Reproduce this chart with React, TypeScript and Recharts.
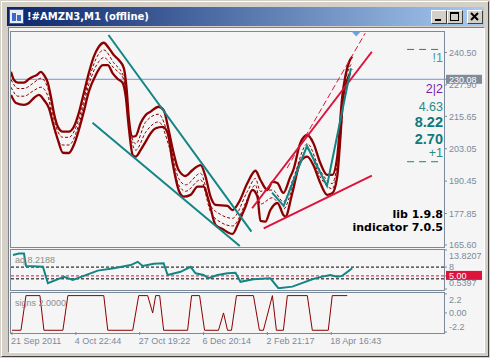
import { ComposedChart, Line, XAxis, YAxis, ReferenceLine, ReferenceDot } from "recharts";

const W = 490;
const H = 358;

const axisColor = "#7b8a9b";
const maroon = "#8b0000";
const teal = "#138585";
const crimson = "#dc143c";

// main price band: bar index / price
const upperBars = [0, 3, 7, 13, 18, 22, 26, 30, 33, 37, 40, 43, 47, 52, 58, 63, 68, 73, 78, 83, 88, 93, 98, 103, 108, 113, 116, 118, 122, 125, 130, 135, 140, 148, 153, 158, 163, 168, 175, 182, 190, 195, 200, 205, 217, 222, 228, 237, 245, 250, 257, 262, 267, 273, 280, 283, 290, 297, 303, 310, 317, 322, 327, 332, 335, 339, 342];
const upperPrice = [233.0, 229.8, 228.75, 228.75, 230.2, 231.1, 231.75, 233.0, 231.75, 228.6, 223.3, 217.0, 211.6, 209.7, 209.7, 211.6, 217.0, 224.75, 232.5, 238.9, 242.75, 244.3, 242.25, 239.5, 237.6, 234.5, 225.9, 215.5, 207.75, 208.0, 213.1, 216.2, 217.5, 219.4, 218.1, 210.35, 201.4, 194.8, 192.45, 194.8, 196.7, 192.2, 184.4, 181.2, 180.8, 179.2, 181.95, 189.7, 194.5, 190.9, 187.0, 190.2, 189.7, 185.85, 192.2, 194.8, 205.3, 208.4, 205.3, 197.5, 192.85, 192.85, 199.95, 223.3, 231.1, 236.9, 238.9];

const lowerBars = [0, 5, 13, 18, 23, 28, 33, 38, 42, 47, 52, 58, 63, 68, 73, 78, 85, 92, 97, 102, 107, 112, 115, 118, 122, 125, 130, 135, 140, 145, 152, 157, 162, 168, 173, 180, 187, 193, 198, 205, 212, 222, 228, 235, 242, 247, 250, 255, 260, 267, 273, 275, 282, 290, 297, 303, 310, 317, 322, 327, 330, 333, 337, 340];
const lowerPrice = [224.0, 220.85, 220.1, 220.85, 222.8, 224.0, 222.0, 218.9, 213.1, 206.5, 201.5, 201.4, 204.5, 210.35, 217.5, 225.25, 231.75, 235.6, 235.6, 232.4, 230.2, 228.6, 223.3, 211.6, 200.6, 200.0, 202.6, 205.8, 209.1, 211.0, 211.6, 209.2, 197.5, 187.0, 184.4, 185.1, 188.3, 188.3, 183.1, 173.4, 171.8, 169.9, 174.2, 180.5, 187.0, 184.4, 174.95, 174.7, 179.2, 181.95, 177.3, 176.6, 185.85, 198.0, 200.0, 196.7, 189.7, 185.1, 185.7, 192.2, 206.5, 223.3, 229.8, 232.5];

const midBars = [0, 7, 13, 22, 30, 37, 43, 52, 58, 68, 78, 88, 93, 103, 113, 118, 125, 135, 148, 158, 168, 175, 190, 200, 210, 222, 237, 245, 250, 262, 273, 283, 297, 310, 322, 327, 335, 342];
const midUpper = [230, 226.5, 226.5, 228.5, 230.5, 226.5, 214.5, 207.5, 207.5, 214.5, 230, 240, 241.5, 236.5, 231, 213.5, 205, 213.5, 216.5, 207.5, 191.5, 189, 193.5, 181, 177.5, 176, 186.5, 191.5, 186.5, 187, 182.5, 191.5, 205, 194.5, 189.5, 197, 229, 236.5];
const midLower = [227, 223.5, 223.5, 225.5, 227, 223.5, 211, 204.5, 204.5, 212.5, 228, 237, 238.5, 234.5, 230, 212.5, 202.5, 209.5, 213.5, 204.5, 189, 186.5, 191, 178.5, 174.5, 173, 183.5, 189, 181.5, 184, 179.5, 189, 203, 192, 187.5, 194.5, 226.5, 234];

// trend lines
const chanUpperBars = [97.7, 241];
const chanUpperPrice = [247.3, 170.8];
const chanLowerBars = [81.7, 229.3];
const chanLowerPrice = [213.2, 165.2];
const zigBars = [261.7, 273.3, 296.7, 316.7, 340.7];
const zigPrice = [185.95, 180.8, 204.1, 188.6, 234.35];
const supportBars = [253.3, 361.7];
const supportPrice = [172.1, 192.6];
const steepBars = [241.7, 361.7];
const steepPrice = [179.9, 240.8];
const thinBars = [276.7, 355];
const thinPrice = [195.5, 248.0];
const levelBars = [397, 433];
const levelTop = [241.7, 241.7];
const levelBottom = [198.0, 198.0];
const markerBar = 346;
const markerPrice = 247.7;

const lastPrice = 230.08;
const priceTicks = [240.5, 227.9, 215.65, 203.05, 190.45, 177.85, 165.6, lastPrice];

// aq sub window
const aqBars = [2, 8, 13, 15, 32, 37, 53, 62, 87, 103, 120, 127, 132, 143, 153, 157, 170, 180, 185, 193, 198, 207, 217, 225, 230, 243, 260, 268, 282, 293, 302, 312, 320, 327, 332, 342];
const aqValues = [12.1, 12.6, 12.6, 8.4, 8.1, 2.5, 4.7, 3.6, 6.8, 7.6, 8.7, 9.8, 8.4, 9.1, 9.3, 5.3, 6.4, 8.1, 5.9, 5.3, 4.2, 5.3, 5.9, 6.1, 3.0, 3.85, 4.2, 0.8, 1.35, 2.7, 3.85, 4.75, 5.3, 4.75, 5.0, 7.6];
const aqMax = 13.8207;
const aqMin = 0.5397;
const aqTicks = [aqMin, 8, aqMax, 5];
const aqTickLabels = ["0.5397", "8", "13.8207", "5.00"];

// signs sub window
const signBars = [1, 10, 15, 29, 33, 52, 57, 93, 97, 122, 128, 137, 142, 145, 149, 153, 177, 181, 189, 194, 208, 213, 217, 221, 226, 243, 249, 253, 262, 266, 273, 277, 297, 302, 318, 322, 337];
const signValues = [-2, -2, 2, 2, -2, -2, 2, 2, -2, -2, 2, 2, 0, 2, 2, -2, -2, 2, 2, -2, -2, 0, -2, -2, 2, 2, -2, -2, 2, -2, -2, 2, 2, -2, -2, 2, 2];
const signTicks = [-2.2, 0, 2.2];
const signTickLabels = ["-2.2", "0.00", "2.2"];

const dateTicks = [1, 65, 129, 193, 257, 321];
const dateLabels = ["21 Sep 2011", "4 Oct 22:44", "27 Oct 19:22", "6 Dec 20:14", "2 Feb 21:17", "18 Apr 16:43"];

const pts = (xs: number[], ys: number[]) => xs.map((x, i) => ({ x, y: ys[i] }));

const font = "'Liberation Sans', Arial, sans-serif";

const renderPriceTick = (props: any) => {
  const { x, y, payload } = props;
  const v = payload.value;
  if (v === lastPrice) {
    return (
      <g>
        <rect x={x - 3} y={y - 4.5} width={36} height={9} fill="#7f8b98" />
        <text x={x} y={y} dy="0.36em" fill="#ffffff" fontSize={9} fontFamily={font}>{v.toFixed(2)}</text>
      </g>
    );
  }
  return <text x={x} y={y} dy="0.36em" fill={axisColor} fontSize={9} fontFamily={font}>{v.toFixed(2)}</text>;
};

const renderAqTick = (props: any) => {
  const { x, y, payload, index } = props;
  const v = payload.value;
  const label = aqTickLabels[index];
  if (v === 5) {
    return (
      <g>
        <rect x={x - 3} y={y - 5} width={36} height={9} fill={crimson} />
        <text x={x} y={y} dy="0.3em" fill="#ffffff" fontSize={9} fontFamily={font}>{label}</text>
      </g>
    );
  }
  const off = v === aqMax ? 6 : v === aqMin ? -6 : 0;
  return <text x={x} y={y + off} dy="0.36em" fill={axisColor} fontSize={9} fontFamily={font}>{label}</text>;
};

const renderSignTick = (props: any) => {
  const { x, y, payload, index } = props;
  const v = payload.value;
  const off = v > 0 ? 6 : v < 0 ? -5 : 0;
  return <text x={x} y={y + off} dy="0.36em" fill={axisColor} fontSize={9} fontFamily={font}>{signTickLabels[index]}</text>;
};

const renderDateTick = (props: any) => {
  const { x, y, index } = props;
  return <text x={x - 1} y={y} dy="0.71em" textAnchor="start" fill={axisColor} fontSize={9} fontFamily={font}>{dateLabels[index]}</text>;
};

const triangle = (props: any) => {
  const { cx, cy } = props;
  return <path d={`M${cx - 4.5},${cy - 2.5} L${cx + 4.5},${cy - 2.5} L${cx},${cy + 2.5} Z`} fill="#6e9fe0" />;
};

const abs = (left: number, top: number, w: number, h: number, extra: any = {}) => ({
  position: "absolute" as const, left, top, width: w, height: h, boxSizing: "border-box" as const, ...extra,
});

const yAxisCommon = {
  orientation: "right" as const,
  type: "number" as const,
  width: 40,
  tickSize: 3,
  tickMargin: 2,
  axisLine: false,
  tickLine: { stroke: axisColor },
  interval: 0 as const,
  allowDataOverflow: true,
};

const chartMargin = (top: number, bottom: number) => ({ top, bottom, left: 11, right: 6 });

function TextRight({ top, size, color, bold, children, family }: any) {
  return (
    <div style={{ position: "absolute", right: 47, top, fontSize: size, lineHeight: 1, color, fontWeight: bold ? "bold" : "normal", fontFamily: family || font, whiteSpace: "nowrap" }}>
      {children}
    </div>
  );
}

function Btn({ left, children }: any) {
  return (
    <div style={abs(left, 10, 16, 14, { background: "#d4d0c8", borderTop: "1px solid #fff", borderLeft: "1px solid #fff", borderRight: "1px solid #404040", borderBottom: "1px solid #404040" })}>
      <svg width={14} height={12} style={{ display: "block" }}>{children}</svg>
    </div>
  );
}

export default function App() {
  return (
    <div style={{ position: "fixed", left: 0, top: 0, width: W, height: H, background: "#d4d0c8", overflow: "hidden", fontFamily: font }}>
      <div style={abs(1, 1, W - 2, H - 2, { borderTop: "1px solid #fff", borderLeft: "1px solid #fff", borderRight: "1px solid #404040", borderBottom: "1px solid #404040" })} />
      <div style={abs(7, 7, 477, 19, { background: "linear-gradient(to right, #0a246a, #a6caf0)" })} />
      <div style={abs(9, 9, 15, 15, { background: "#e8eef8", border: "1px solid #3d5a9c" })}>
        <div style={abs(2, 3, 4, 8, { background: "#3d6bc4" })} />
        <div style={abs(7, 5, 4, 6, { background: "#3d6bc4" })} />
      </div>
      <div style={{ position: "absolute", left: 27, top: 11.5, fontSize: 10, lineHeight: 1, color: "#fff", fontWeight: "bold", fontFamily: "'DejaVu Sans', sans-serif", whiteSpace: "nowrap" }}>
        !#AMZN3,M1 (offline)
      </div>
      <Btn left={431}><rect x={3} y={8} width={6} height={2} fill="#000" /></Btn>
      <Btn left={447}><rect x={2.5} y={1.5} width={8} height={8} fill="none" stroke="#000" /><rect x={2} y={1} width={9} height={2} fill="#000" /></Btn>
      <Btn left={467}><path d="M3,2 L10,9 M10,2 L3,9" stroke="#000" strokeWidth={2} /></Btn>

      <div style={abs(8, 27, 477, 326, { background: "#f5f5f5", borderTop: "1px solid #808080", borderLeft: "1px solid #808080", borderRight: "1px solid #fff", borderBottom: "1px solid #fff" })} />
      <div style={abs(10, 31, 435, 217, { border: `1px solid ${axisColor}` })} />
      <div style={abs(10, 249, 435, 42, { border: `1px solid ${axisColor}` })} />
      <div style={abs(10, 292, 435, 42, { border: `1px solid ${axisColor}` })} />

      <div style={abs(0, 0, W, H)}>
        <ComposedChart width={W} height={H} margin={chartMargin(31, H - 247)}>
          <XAxis type="number" dataKey="x" domain={[0, 434]} hide allowDataOverflow />
          <YAxis {...yAxisCommon} domain={[164.82, 248.87]} ticks={priceTicks} tick={renderPriceTick} />
          <ReferenceLine y={lastPrice} stroke="#6495ed" strokeWidth={1} />
          <Line data={pts(midBars, midUpper)} dataKey="y" type="monotone" stroke={maroon} strokeWidth={1} strokeDasharray="3 2" dot={false} isAnimationActive={false} />
          <Line data={pts(midBars, midLower)} dataKey="y" type="monotone" stroke={maroon} strokeWidth={1} strokeDasharray="3 2" dot={false} isAnimationActive={false} />
          <Line data={pts(upperBars, upperPrice)} dataKey="y" type="monotone" stroke={maroon} strokeWidth={2.3} dot={false} isAnimationActive={false} />
          <Line data={pts(lowerBars, lowerPrice)} dataKey="y" type="monotone" stroke={maroon} strokeWidth={2.3} dot={false} isAnimationActive={false} />
          <Line data={pts(chanUpperBars, chanUpperPrice)} dataKey="y" type="linear" stroke={teal} strokeWidth={2} dot={false} isAnimationActive={false} />
          <Line data={pts(chanLowerBars, chanLowerPrice)} dataKey="y" type="linear" stroke={teal} strokeWidth={2} dot={false} isAnimationActive={false} />
          <Line data={pts(supportBars, supportPrice)} dataKey="y" type="linear" stroke={crimson} strokeWidth={2} dot={false} isAnimationActive={false} />
          <Line data={pts(steepBars, steepPrice)} dataKey="y" type="linear" stroke={crimson} strokeWidth={2} dot={false} isAnimationActive={false} />
          <Line data={pts(thinBars, thinPrice)} dataKey="y" type="linear" stroke={crimson} strokeWidth={1} strokeDasharray="6 3" dot={false} isAnimationActive={false} />
          <Line data={pts(zigBars, zigPrice)} dataKey="y" type="linear" stroke={teal} strokeWidth={2} dot={false} isAnimationActive={false} />
          <Line data={pts(levelBars, levelTop)} dataKey="y" type="linear" stroke={teal} strokeWidth={1} strokeDasharray="7 5" dot={false} isAnimationActive={false} />
          <Line data={pts(levelBars, levelBottom)} dataKey="y" type="linear" stroke={teal} strokeWidth={1} strokeDasharray="7 5" dot={false} isAnimationActive={false} />
          <ReferenceDot x={markerBar} y={markerPrice} r={4} shape={triangle} />
        </ComposedChart>
      </div>

      <div style={abs(0, 0, W, H)}>
        <ComposedChart width={W} height={H} margin={chartMargin(250, H - 289)}>
          <XAxis type="number" dataKey="x" domain={[0, 434]} hide allowDataOverflow />
          <YAxis {...yAxisCommon} domain={[aqMin, aqMax]} ticks={aqTicks} tick={renderAqTick} />
          <ReferenceLine y={8} stroke="#000" strokeDasharray="3 2" />
          <ReferenceLine y={4} stroke="#000" strokeDasharray="3 2" />
          <ReferenceLine y={5} stroke={crimson} strokeDasharray="3 2" />
          <Line data={pts(aqBars, aqValues)} dataKey="y" type="linear" stroke={teal} strokeWidth={2} dot={false} isAnimationActive={false} />
        </ComposedChart>
      </div>

      <div style={abs(0, 0, W, H)}>
        <ComposedChart width={W} height={H} margin={chartMargin(293, H - 332 - 20)}>
          <XAxis type="number" dataKey="x" domain={[0, 434]} ticks={dateTicks} tick={renderDateTick} interval={0} height={20} tickSize={3} tickMargin={3} axisLine={false} tickLine={{ stroke: axisColor }} allowDataOverflow />
          <YAxis {...yAxisCommon} domain={[-2.2, 2.3]} ticks={signTicks} tick={renderSignTick} />
          <Line data={pts(signBars, signValues)} dataKey="y" type="linear" stroke={maroon} strokeWidth={1} dot={false} isAnimationActive={false} />
        </ComposedChart>
      </div>

      <div style={{ position: "absolute", left: 15, top: 255, fontSize: 9, lineHeight: "10px", color: "#8c8c8c" }}>aq 8.2188</div>
      <div style={{ position: "absolute", left: 15, top: 297.5, fontSize: 9, lineHeight: "10px", color: "#8c8c8c" }}>signs 2.0000</div>

      <TextRight top={51.75} size={12.5} color="#3f9a9a">!1</TextRight>
      <TextRight top={83} size={12.5} color="#7a1fa2">2|2</TextRight>
      <TextRight top={100.5} size={12.5} color="#2a8b8b">4.63</TextRight>
      <TextRight top={115.25} size={14.5} color="#0f7a7a" bold>8.22</TextRight>
      <TextRight top={131.75} size={14.5} color="#0f7a7a" bold>2.70</TextRight>
      <TextRight top={147} size={12.5} color="#2a8b8b">+1</TextRight>
      <TextRight top={208.8} size={11} color="#000" bold family="'DejaVu Sans', sans-serif">lib 1.9.8</TextRight>
      <TextRight top={221.5} size={11} color="#000" bold family="'DejaVu Sans', sans-serif">indicator 7.0.5</TextRight>
    </div>
  );
}
